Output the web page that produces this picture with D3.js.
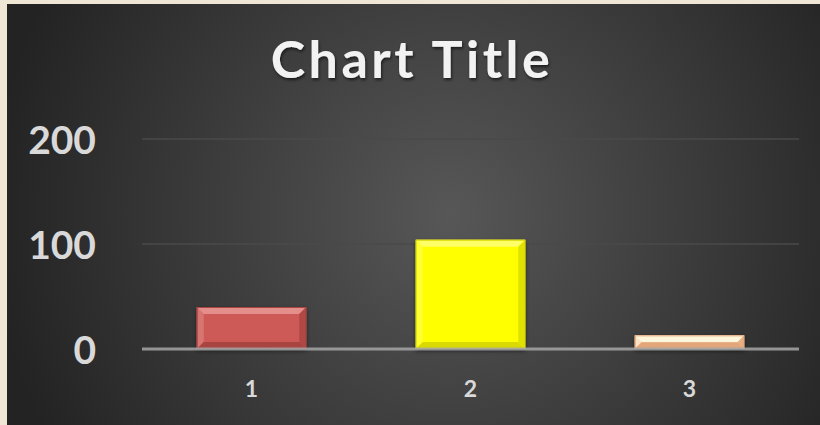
<!DOCTYPE html>
<html>
<head>
<meta charset="utf-8">
<script src="https://cdn.jsdelivr.net/npm/d3@7"></script>
<style>
  html, body { margin: 0; padding: 0; background: #efe6d6; }
  svg { display: block; }
</style>
</head>
<body>
<svg id="chart" width="820" height="425"></svg>
<script>
// chart values
var categories = ["1", "2", "3"];
var values = [40, 104, 13];
var yTicks = [0, 100, 200];
var title = "Chart Title";

// one fill per bar, with a light and a dark bevel shade
var fills = ["#cd5a57", "#ffff00", "#f9cfa5"];
var lights = ["#e58f8c", "#ffff66", "#fff6de"];
var darks = ["#a94441", "#dada00", "#e2a67a"];

var svg = d3.select("#chart");
var W = 820, H = 425;
var margin = {left: 142, right: 21, top: 139, bottom: 76};

var defs = svg.append("defs");
var bg = defs.append("radialGradient")
    .attr("id", "bg")
    .attr("gradientUnits", "userSpaceOnUse")
    .attr("cx", 450).attr("cy", 215).attr("r", 460);
bg.append("stop").attr("offset", "0%").attr("stop-color", "#575757");
bg.append("stop").attr("offset", "100%").attr("stop-color", "#232323");

var shadow = defs.append("filter").attr("id", "shadow")
    .attr("x", "-20%").attr("y", "-20%").attr("width", "140%").attr("height", "160%");
shadow.append("feDropShadow")
    .attr("dx", 0).attr("dy", 2).attr("stdDeviation", 2)
    .attr("flood-color", "#000").attr("flood-opacity", 0.5);

var txtShadow = defs.append("filter").attr("id", "tshadow")
    .attr("x", "-10%").attr("y", "-20%").attr("width", "120%").attr("height", "150%");
txtShadow.append("feDropShadow")
    .attr("dx", 1).attr("dy", 2).attr("stdDeviation", 1.5)
    .attr("flood-color", "#000").attr("flood-opacity", 0.6);

// dark chart area
svg.append("rect")
    .attr("x", 7).attr("y", 4)
    .attr("width", W - 7).attr("height", H - 4)
    .attr("fill", "url(#bg)");

var x = d3.scaleBand()
    .domain(categories)
    .range([margin.left, W - margin.right])
    .paddingInner(0.5)
    .paddingOuter(0.25);

var y = d3.scaleLinear()
    .domain([0, 200])
    .range([H - margin.bottom, margin.top]);

// gridlines
svg.append("g")
    .selectAll("line")
    .data(yTicks.filter(function (d) { return d > 0; }))
    .enter().append("line")
    .attr("x1", margin.left).attr("x2", W - margin.right)
    .attr("y1", function (d) { return y(d); })
    .attr("y2", function (d) { return y(d); })
    .attr("stroke", "#4a4a4a")
    .attr("stroke-width", 1.5);

// y axis labels
var yAxis = d3.axisLeft(y).tickValues(yTicks).tickSize(0).tickPadding(0);
var gy = svg.append("g")
    .attr("transform", "translate(96,0)")
    .call(yAxis);
gy.select(".domain").remove();
gy.selectAll("text")
    .attr("fill", "#d9d9d9")
    .attr("dy", "0.36em")
    .style("font-family", "Lato, 'Open Sans', sans-serif")
    .style("font-weight", "bold")
    .style("font-size", "39px");

// bars with a bevel
var bars = svg.append("g").selectAll("g")
    .data(values)
    .enter().append("g")
    .attr("filter", "url(#shadow)");

bars.each(function (d, i) {
    var g = d3.select(this);
    var x0 = x(categories[i]), x1 = x0 + x.bandwidth();
    var y0 = y(d), y1 = y(0);
    var b = Math.min(7, (y1 - y0) / 2);
    g.append("rect")
        .attr("x", x0).attr("y", y0)
        .attr("width", x1 - x0).attr("height", y1 - y0)
        .attr("fill", fills[i]);
    var poly = function (pts, c, op) {
        g.append("polygon")
            .attr("points", pts.map(function (p) { return p.join(","); }).join(" "))
            .attr("fill", c)
            .attr("opacity", op);
    };
    poly([[x0, y0], [x1, y0], [x1 - b, y0 + b], [x0 + b, y0 + b]], lights[i], 1);
    poly([[x0, y0], [x0 + b, y0 + b], [x0 + b, y1 - b], [x0, y1]], lights[i], 0.5);
    poly([[x1, y0], [x1, y1], [x1 - b, y1 - b], [x1 - b, y0 + b]], darks[i], 0.8);
    poly([[x0, y1], [x0 + b, y1 - b], [x1 - b, y1 - b], [x1, y1]], darks[i], 1);
    g.append("rect")
        .attr("x", x0 + 0.5).attr("y", y0 + 0.5)
        .attr("width", x1 - x0 - 1).attr("height", y1 - y0 - 1)
        .attr("fill", "none")
        .attr("stroke", darks[i])
        .attr("stroke-width", 1);
});

// baseline
svg.append("line")
    .attr("x1", margin.left).attr("x2", W - margin.right)
    .attr("y1", y(0)).attr("y2", y(0))
    .attr("stroke", "#a6a6a6")
    .attr("stroke-opacity", 0.85)
    .attr("stroke-width", 3);

// x axis labels
var xAxis = d3.axisBottom(x).tickSize(0).tickPadding(0);
var gx = svg.append("g")
    .attr("transform", "translate(0," + (y(0) + 48) + ")")
    .call(xAxis);
gx.select(".domain").remove();
gx.selectAll("text")
    .attr("fill", "#d9d9d9")
    .attr("dy", "0")
    .style("font-family", "Lato, 'Open Sans', sans-serif")
    .style("font-weight", "bold")
    .style("font-size", "23px");

// title
svg.append("text")
    .attr("x", 412).attr("y", 78)
    .attr("text-anchor", "middle")
    .attr("fill", "#f2f2f2")
    .attr("filter", "url(#tshadow)")
    .style("font-family", "Lato, 'Open Sans', sans-serif")
    .style("font-weight", "bold")
    .style("font-size", "52px")
    .style("letter-spacing", "3.5px")
    .text(title);
</script>
</body>
</html>
